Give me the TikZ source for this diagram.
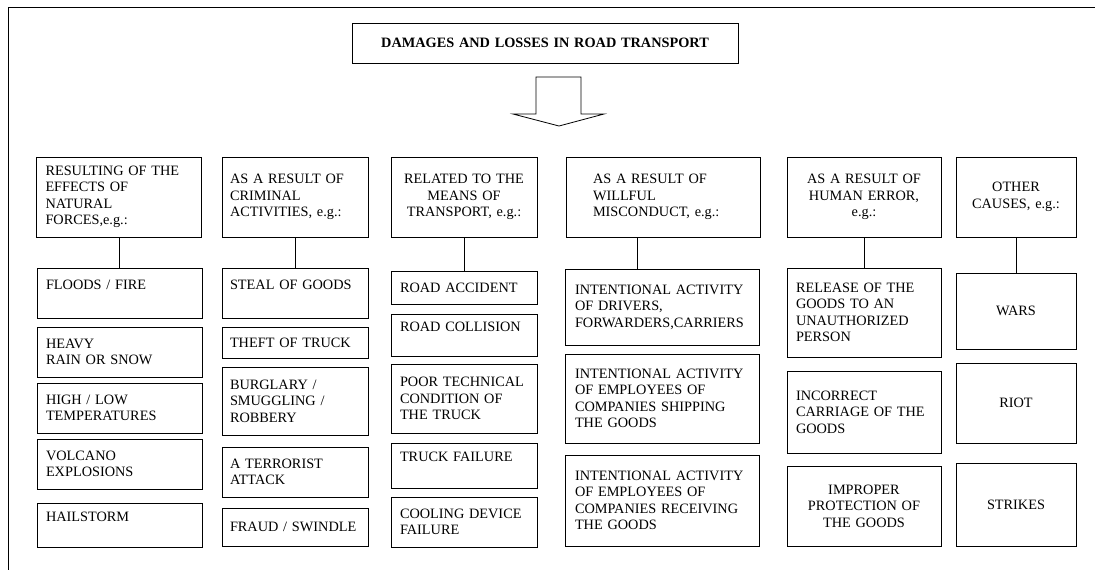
\documentclass[tikz,border=0pt]{standalone}
\usepackage{fontspec}
\setmainfont{Liberation Serif}
\newcommand{\voce}{\fontsize{14.3pt}{16.5pt}\selectfont}
\tikzset{
  riquadro/.style={draw, line width=0.8pt, inner xsep=9pt, inner ysep=0pt, align=left, font=\voce},
  centrato/.style={align=center},
  col1/.style={minimum width=165pt, text width=147pt},
  col2/.style={minimum width=146pt, text width=130pt, inner xsep=8pt},
  col3/.style={minimum width=146pt, text width=128pt},
  col4/.style={minimum width=194pt, text width=174pt, inner xsep=10pt},
  col5/.style={minimum width=154pt, text width=136pt},
  col6/.style={minimum width=120pt, text width=102pt},
  tratto/.style={line width=0.8pt},
}
\begin{document}
\begin{tikzpicture}[x=1pt,y=-1pt]
        \useasboundingbox (0,0) rectangle (1095,570);
        %cornice
        \draw[line width=1pt] (8,570)-- (8,7)-- (1095,7);
        %titolo
        \node[riquadro,centrato,minimum width=386pt,text width=368pt,minimum height=40pt,font=\voce\bfseries] (titolo) at (545,43) {DAMAGES AND LOSSES IN ROAD TRANSPORT};
        %freccia
        \draw[tratto] (536,77)--++ (45,0)--++ (0,37)--++ (23,0)-- (559,126)-- (513,114)--++ (23,0)-- cycle;
        %intestazioni
        \node[riquadro,col1,minimum height=80pt] (cause1) at (119,197) {RESULTING OF THE\\EFFECTS OF\\NATURAL\\FORCES,e.g.:};
        \node[riquadro,col2,minimum height=80pt] (cause2) at (295,197) {AS A RESULT OF\\CRIMINAL\\ACTIVITIES, e.g.:};
        \node[riquadro,col3,centrato,minimum height=80pt] (cause3) at (464,197) {RELATED TO THE\\MEANS OF\\TRANSPORT, e.g.:};
        \node[riquadro,col4,minimum height=80pt,inner xsep=27pt,text width=140pt] (cause4) at (663,197) {AS A RESULT OF\\WILLFUL\\MISCONDUCT, e.g.:\\[3pt]};
        \node[riquadro,col5,centrato,minimum height=80pt] (cause5) at (864,197) {AS A RESULT OF\\HUMAN ERROR,\\e.g.:};
        \node[riquadro,col6,centrato,minimum height=80pt] (cause6) at (1016,197) {OTHER\\CAUSES, e.g.:\\[4pt]};
        %forze naturali
        \node[riquadro,col1,minimum height=50pt] (nat1) at (119.5,293) {FLOODS / FIRE\\ \mbox{}};
        \node[riquadro,col1,minimum height=50pt] (nat2) at (119.5,352) {HEAVY\\RAIN OR SNOW};
        \node[riquadro,col1,minimum height=50pt] (nat3) at (119.5,408) {HIGH / LOW\\TEMPERATURES};
        \node[riquadro,col1,minimum height=50pt] (nat4) at (119.5,464) {VOLCANO\\EXPLOSIONS};
        \node[riquadro,col1,minimum height=44pt] (nat5) at (119.5,525) {HAILSTORM\\ \mbox{}};
        %attivita criminali
        \node[riquadro,col2,minimum height=50pt] (crim1) at (295,293) {STEAL OF GOODS\\ \mbox{}};
        \node[riquadro,col2,minimum height=31pt] (crim2) at (295,342.5) {THEFT OF TRUCK};
        \node[riquadro,col2,minimum height=68pt] (crim3) at (295,401) {BURGLARY /\\SMUGGLING /\\ROBBERY};
        \node[riquadro,col2,minimum height=50pt] (crim4) at (295,472) {A TERRORIST\\ATTACK};
        \node[riquadro,col2,minimum height=38pt] (crim5) at (295,527) {FRAUD / SWINDLE};
        %mezzo di trasporto
        \node[riquadro,col3,minimum height=33pt] (mezzo1) at (464,287.5) {ROAD ACCIDENT};
        \node[riquadro,col3,minimum height=42pt] (mezzo2) at (464,335) {ROAD COLLISION\\ \mbox{}};
        \node[riquadro,col3,minimum height=69pt] (mezzo3) at (464,398.5) {POOR TECHNICAL\\CONDITION OF\\THE TRUCK};
        \node[riquadro,col3,minimum height=45pt] (mezzo4) at (464,465.5) {TRUCK FAILURE\\ \mbox{}};
        \node[riquadro,col3,minimum height=50pt] (mezzo5) at (464,522) {COOLING DEVICE\\FAILURE};
        %dolo
        \node[riquadro,col4,minimum height=76pt] (dolo1) at (662,307) {INTENTIONAL ACTIVITY\\OF DRIVERS,\\FORWARDERS,CARRIERS\\[3pt]};
        \node[riquadro,col4,minimum height=89pt] (dolo2) at (662,398.5) {INTENTIONAL ACTIVITY\\OF EMPLOYEES OF\\COMPANIES SHIPPING\\THE GOODS};
        \node[riquadro,col4,minimum height=91pt] (dolo3) at (662,500.5) {INTENTIONAL ACTIVITY\\OF EMPLOYEES OF\\COMPANIES RECEIVING\\THE GOODS\\[3pt]};
        %errore umano
        \node[riquadro,col5,minimum height=89pt] (errore1) at (864,312.5) {RELEASE OF THE\\GOODS TO AN\\UNAUTHORIZED\\PERSON};
        \node[riquadro,col5,minimum height=82pt] (errore2) at (864,412) {INCORRECT\\CARRIAGE OF THE\\GOODS};
        \node[riquadro,col5,centrato,minimum height=80pt] (errore3) at (864,506) {IMPROPER\\PROTECTION OF\\THE GOODS};
        %altre cause
        \node[riquadro,col6,centrato,minimum height=76pt] (altro1) at (1016,311) {WARS};
        \node[riquadro,col6,centrato,minimum height=80pt] (altro2) at (1016,403) {RIOT};
        \node[riquadro,col6,centrato,minimum height=83pt] (altro3) at (1016,504.5) {STRIKES};
        %collegamenti
        \draw[tratto] (cause1.south)-- (cause1.south |- nat1.north);
        \draw[tratto] (cause2.south)-- (cause2.south |- crim1.north);
        \draw[tratto] (cause3.south)-- (cause3.south |- mezzo1.north);
        \draw[tratto] ([xshift=-26pt]cause4.south)-- ([xshift=-26pt]cause4.south |- dolo1.north);
        \draw[tratto] (cause5.south)-- (cause5.south |- errore1.north);
        \draw[tratto] (cause6.south)-- (cause6.south |- altro1.north);
    \end{tikzpicture}
\end{document}
